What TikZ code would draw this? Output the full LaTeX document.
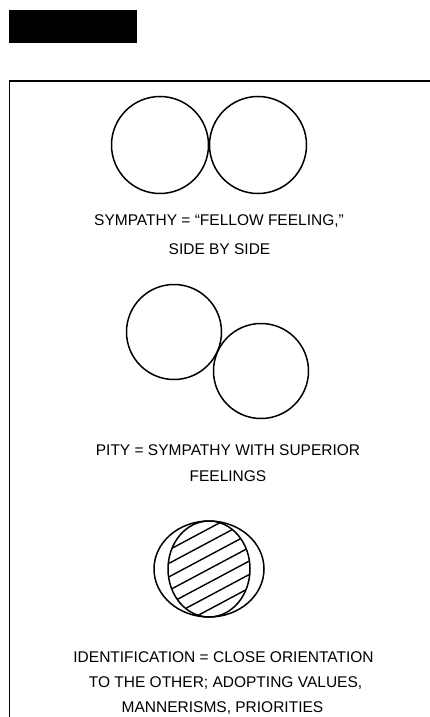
\documentclass[tikz,border=0pt]{standalone}
\usepackage{fontspec}
\setmainfont{Liberation Sans}
\usetikzlibrary{calc,shapes.geometric}
\begin{document}
\begin{tikzpicture}[x=1pt,y=-1pt,
  lbl/.style={font=\fontsize{15.5}{18}\selectfont, inner sep=0pt, anchor=center},
  ring/.style={draw=black, line width=1.5pt},
  hatch/.style={line width=1.4pt}]
\useasboundingbox (0,0) rectangle (430,717);
% black title bar
\fill[black] (9,10) rectangle (137,43);
% frame
\coordinate (fr) at (430,81);
\coordinate (fc) at (9.5,81);
\coordinate (fb) at (9.5,717);
\draw[line width=1.5pt] (fr) -- (fc) -- (fb);
% sympathy
\node[ring, circle, minimum size=97pt, inner sep=0pt] (s1) at (160,145) {};
\node[ring, circle, minimum size=97pt, inner sep=0pt] (s2) at (258,145) {};
\node[lbl] (t1) at (219,221) {SYMPATHY = “FELLOW FEELING,”};
\node[lbl] (t2) at (219.5,249) {SIDE BY SIDE};
% pity
\node[ring, circle, minimum size=95pt, inner sep=0pt] (p1) at (174,332) {};
\node[ring, circle, minimum size=95pt, inner sep=0pt] (p2) at (261,371) {};
\node[lbl] (t3) at (228,450) {PITY = SYMPATHY WITH SUPERIOR};
\node[lbl] (t4) at (228,476) {FEELINGS};
% identification
\begin{scope}
  \clip (209,569) ellipse [x radius=41, y radius=48];
  \foreach \k in {-5,...,5} {
    \draw[hatch] ($(209,569)+(0,\k*13.5)+(-60,32)$) -- ++(120,-64);
  }
\end{scope}
\node[ring, ellipse, minimum width=82pt, minimum height=96pt, inner sep=0pt] (i1) at (209,569) {};
\node[ring, ellipse, minimum width=110pt, minimum height=96pt, inner sep=0pt] (i2) at (209,569) {};
\node[lbl] (t5) at (223.5,657) {IDENTIFICATION = CLOSE ORIENTATION};
\node[lbl] (t6) at (225.5,683) {TO THE OTHER; ADOPTING VALUES,};
\node[lbl] (t7) at (222.5,708) {MANNERISMS, PRIORITIES};
\end{tikzpicture}
\end{document}
